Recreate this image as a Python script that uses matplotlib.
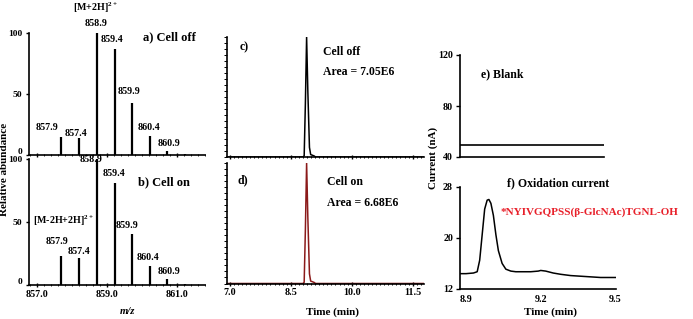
import matplotlib
matplotlib.use("Agg")
import matplotlib.pyplot as plt
import matplotlib.transforms as mtrans
import numpy as np

plt.rcParams['font.family'] = ['Liberation Serif', 'DejaVu Serif']
plt.rcParams['font.weight'] = 'bold'
plt.rcParams['mathtext.fontset'] = 'custom'
plt.rcParams['mathtext.rm'] = 'Liberation Serif:bold'
plt.rcParams['mathtext.bf'] = 'Liberation Serif:bold'
plt.rcParams['mathtext.it'] = 'Liberation Serif:italic:bold'

# ---- data ----
ms_mz = [857.69, 858.20, 858.71, 859.22, 859.72, 860.23, 860.73, 861.23]
ms_off = [15.0, 13.7, 100.0, 86.9, 43.0, 15.6, 3.5, 1.0]
ms_on = [23.4, 21.6, 100.0, 80.7, 40.4, 15.0, 4.5, 1.0]
ms_labels = ["857.9", "857.4", "858.9", "859.4", "859.9", "860.4", "860.9"]

lc_time = [6.93, 8.80, 8.83, 8.86, 8.89, 8.92, 8.96, 8.99, 9.03, 9.08, 9.11, 11.78]
lc_off = [0.0, 0.0, 1.0, 45.0, 100.0, 55.0, 8.0, 2.0, 1.5, 0.8, 0.0, 0.0]
lc_on = [0.0, 0.0, 1.0, 45.0, 100.0, 55.0, 8.0, 2.0, 1.5, 0.8, 0.0, 0.0]

blank_t = [8.876, 9.43]
blank_i = [49.4, 49.4]

ox_t = [8.876, 8.90, 8.93, 8.945, 8.955, 8.965, 8.975, 8.985, 8.992, 9.0, 9.01,
        9.02, 9.03, 9.045, 9.06, 9.08, 9.10, 9.13, 9.16, 9.19, 9.20, 9.22,
        9.25, 9.28, 9.32, 9.36, 9.40, 9.44, 9.48, 9.50]
ox_i = [14.4, 14.4, 14.5, 14.7, 16.5, 20.5, 24.5, 25.9, 26.0, 25.4, 23.5,
        20.5, 18.0, 16.0, 15.1, 14.8, 14.7, 14.7, 14.7, 14.8, 14.9, 14.8,
        14.5, 14.3, 14.1, 14.0, 13.9, 13.8, 13.8, 13.8]

W, H = 693, 319
fig = plt.figure(figsize=(W / 100, H / 100), dpi=100)


def box(l, r, t, b):
    return [l / W, (H - b) / H, (r - l) / W, (b - t) / H]


def style(ax, ysize=7.2):
    for s in ['top', 'right']:
        ax.spines[s].set_visible(False)
    for s in ['left', 'bottom']:
        ax.spines[s].set_linewidth(1.2)
    ax.tick_params(labelsize=7.2, width=1, length=3, pad=2)
    ax.tick_params(axis='y', labelsize=ysize)
    for lab in ax.get_xticklabels() + ax.get_yticklabels():
        lab.set_fontweight('bold')


fs_small = 7.2
fs_lab = 9.0

# ---- panel a ----
axa = fig.add_axes(box(28.5, 205, 33, 155))
axa.vlines(ms_mz, 0, ms_off, color='black', lw=1.6)
axa.set_xlim(856.75, 861.81)
axa.set_ylim(0, 100)
axa.set_yticks([0, 50, 100])
axa.set_xticks([857, 859, 861])
axa.set_xticklabels([])
axa.xaxis.set_minor_locator(matplotlib.ticker.MultipleLocator(0.2))
style(axa, ysize=6.8)
axa.tick_params(axis='y', pad=2.5, length=2)
axa.tick_params(axis='x', which='both', direction='inout')
axa.tick_params(axis='x', which='minor', length=2)
fig.canvas.draw()
lab0 = axa.get_yticklabels()[0]
lab0.set_transform(lab0.get_transform() + mtrans.ScaledTranslation(0, 4 / 100, fig.dpi_scale_trans))
a_pos = [(47, 128), (75.5, 133), (96, 24), (112, 39), (129, 92), (149, 128), (168.5, 143)]
for (x, y), lab in zip(a_pos, ms_labels):
    fig.text(x / W, 1 - y / H, lab, fontsize=fs_small, ha='center', va='center', fontweight='bold')
fig.text(95 / W, 1 - 8 / H, r"[M+2H]$^{\mathrm{2+}}$", fontsize=fs_small, ha='center', va='center', fontweight='bold')
fig.text(143 / W, 1 - 37 / H, "a) Cell off", fontsize=fs_lab, ha='left', va='center', fontweight='bold')

# ---- panel b ----
axb = fig.add_axes(box(28.5, 205, 159, 285))
axb.vlines(ms_mz, 0, ms_on, color='black', lw=1.6)
axb.set_xlim(856.75, 861.81)
axb.set_ylim(0, 100)
axb.set_yticks([0, 50, 100])
axb.set_xticks([857, 859, 861])
axb.set_xticklabels(["857.0", "859.0", "861.0"])
axb.xaxis.set_minor_locator(matplotlib.ticker.MultipleLocator(0.2))
style(axb, ysize=6.8)
axb.tick_params(axis='y', pad=2.5, length=2)
axb.tick_params(axis='x', which='both', direction='inout')
axb.tick_params(axis='x', which='minor', length=2)
lab0 = axb.get_yticklabels()[0]
lab0.set_transform(lab0.get_transform() + mtrans.ScaledTranslation(0, 4 / 100, fig.dpi_scale_trans))
b_pos = [(57, 242), (79, 252), (91.5, 160), (114, 173), (127.5, 226), (148, 257), (169.5, 271)]
for (x, y), lab in zip(b_pos, ms_labels):
    fig.text(x / W, 1 - y / H, lab, fontsize=fs_small, ha='center', va='center', fontweight='bold')
fig.text(33 / W, 1 - 221 / H, r"[M-2H+2H]$^{\mathrm{2+}}$", fontsize=fs_small, ha='left', va='center', fontweight='bold')
fig.text(138 / W, 1 - 182 / H, "b) Cell on", fontsize=fs_lab, ha='left', va='center', fontweight='bold')
fig.text(4.5 / W, 1 - 169 / H, "Relative abundance", fontsize=8, rotation=90, ha='center', va='center', fontweight='bold')
fig.text(127 / W, 1 - 312 / H, "m/z", fontsize=fs_small + 0.5, ha='center', va='center', fontweight='bold', style='italic')

# ---- panel c ----
axc = fig.add_axes(box(227, 424, 37, 157))
axc.plot(lc_time, lc_off, color='black', lw=1.1)
axc.set_xlim(6.93, 11.78)
axc.set_ylim(0, 100)
axc.set_xticks([7.0, 8.5, 10.0, 11.5])
axc.set_xticklabels([])
axc.set_yticks([])
axc.xaxis.set_minor_locator(matplotlib.ticker.MultipleLocator(0.1))
axc.yaxis.set_minor_locator(matplotlib.ticker.MultipleLocator(5))
style(axc)
axc.tick_params(axis='x', which='both', direction='inout')
axc.tick_params(which='minor', length=2, width=0.7)
fig.text(240 / W, 1 - 47 / H, "c)", fontsize=fs_lab - 0.5, ha='left', va='center', fontweight='bold')
fig.text(323 / W, 1 - 52 / H, "Cell off", fontsize=fs_lab - 0.5, ha='left', va='center', fontweight='bold')
fig.text(323 / W, 1 - 72 / H, "Area = 7.05E6", fontsize=fs_lab - 0.5, ha='left', va='center', fontweight='bold')

# ---- panel d ----
axd = fig.add_axes(box(227, 424, 163, 283.5))
axd.plot(lc_time, lc_on, color='#8B1A1A', lw=1.1)
axd.set_xlim(6.93, 11.78)
axd.set_ylim(0, 100)
axd.set_xticks([7.0, 8.5, 10.0, 11.5])
axd.set_xticklabels(["7.0", "8.5", "10.0", "11.5"])
axd.set_yticks([])
axd.xaxis.set_minor_locator(matplotlib.ticker.MultipleLocator(0.1))
axd.yaxis.set_minor_locator(matplotlib.ticker.MultipleLocator(5))
style(axd)
axd.tick_params(axis='x', which='both', direction='inout')
axd.tick_params(which='minor', length=2, width=0.7)
fig.text(237 / W, 1 - 180 / H, "d)", fontsize=fs_lab - 0.5, ha='left', va='center', fontweight='bold')
fig.text(327 / W, 1 - 182 / H, "Cell on", fontsize=fs_lab - 0.5, ha='left', va='center', fontweight='bold')
fig.text(327 / W, 1 - 203 / H, "Area = 6.68E6", fontsize=fs_lab - 0.5, ha='left', va='center', fontweight='bold')
fig.text(332 / W, 1 - 312 / H, "Time (min)", fontsize=fs_small + 0.8, ha='center', va='center', fontweight='bold')

# ---- panel e ----
axe = fig.add_axes(box(460, 604, 55, 157))
axe.plot(blank_t, blank_i, color='black', lw=1.2)
axe.set_xlim(8.876, 9.43)
axe.set_ylim(40, 120)
axe.set_yticks([40, 80, 120])
axe.set_xticks([])
style(axe)
fig.text(481 / W, 1 - 74 / H, "e) Blank", fontsize=fs_lab - 0.5, ha='left', va='center', fontweight='bold')

# ---- panel f ----
axf = fig.add_axes(box(460, 616, 186.7, 289))
axf.plot(ox_t, ox_i, color='black', lw=1.1)
axf.set_xlim(8.876, 9.502)
axf.set_ylim(12, 28)
axf.set_yticks([12, 20, 28])
axf.set_xticks([8.9, 9.2, 9.5])
axf.set_xticklabels(["8.9", "9.2", "9.5"])
style(axf)
axf.tick_params(axis='x', length=0, pad=4)
fig.text(558 / W, 1 - 183 / H, "f) Oxidation current", fontsize=fs_lab - 0.5, ha='center', va='center', fontweight='bold')
fig.text(501 / W, 1 - 212 / H, "*NYIVGQPSS(\u03b2-GlcNAc)TGNL-OH", fontsize=8.0,
         ha='left', va='center', fontweight='bold', color='#E8202A')
fig.text(550 / W, 1 - 312 / H, "Time (min)", fontsize=fs_small + 0.8, ha='center', va='center', fontweight='bold')
fig.text(433 / W, 1 - 158 / H, "Current (nA)", fontsize=7.8, rotation=90, ha='center', va='center', fontweight='bold')

fig.savefig("out.png", dpi=100)
